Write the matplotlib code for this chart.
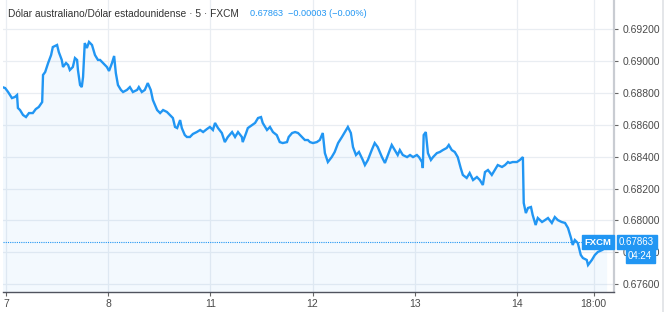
import matplotlib.pyplot as plt
from matplotlib.ticker import FixedLocator, FixedFormatter

plt.rcParams['font.family'] = ['Liberation Sans', 'DejaVu Sans']

# trading-time hours counted from day 7 00:00 (weekend skipped)
hours = [
    -0.9, -0.2, 0.5, 1.4, 2.1, 2.6, 2.8, 3.3, 4.0, 4.7, 5.4, 6.3, 7.0, 7.7, 8.5, 8.7, 9.2, 9.9, 10.6, 11.0,
    12.0, 12.4, 13.1, 13.4, 14.1, 14.6, 15.0, 15.7, 16.2, 16.7, 16.9, 17.4, 17.8, 18.1, 18.5, 19.0, 19.5, 20.2, 20.9, 21.6,
    22.1, 22.8, 23.7, 24.2, 24.9, 25.4, 25.8, 26.3, 27.0, 27.5, 28.4, 29.1, 29.8, 30.8, 31.2, 31.9, 32.6, 33.3, 34.0, 34.5,
    35.5, 36.2, 36.9, 37.8, 38.5, 39.2, 39.7, 40.2, 40.9, 41.3, 42.0, 42.5, 43.2, 43.9, 44.8, 45.6, 46.3, 47.2,
    47.9, 48.6, 49.1, 49.8, 50.7, 51.4, 52.1, 53.1, 53.8, 54.5, 55.4, 55.6, 56.4, 56.8, 57.8, 58.5, 59.2, 59.9, 60.3,
    61.3, 62.0, 62.7, 63.6, 64.3, 65.0, 66.0, 66.4, 67.2, 67.9, 68.6, 69.5, 70.2, 70.9,
    71.4, 72.1, 73.0, 73.7, 74.4, 74.9, 75.6, 76.5, 77.2, 78.0, 78.9, 79.6, 80.3, 81.0, 81.5, 82.2, 82.9, 83.8, 84.3,
    85.0, 85.9, 86.6, 87.3, 88.3, 89.0, 89.7, 90.6, 91.3, 92.0,
    92.5, 93.2, 94.2, 94.9, 95.6, 96.5, 97.0, 97.7, 97.9, 98.1, 98.6, 99.1, 99.8, 100.3, 101.2, 101.9, 102.6, 103.5,
    104.0, 104.7, 105.4, 106.1, 106.8, 107.3, 108.2, 108.9, 109.7, 110.6, 111.3, 112.0, 112.5, 113.2, 114.1, 114.8,
    115.5, 116.5, 117.2, 117.9,
    118.3, 119.0, 120.0, 120.7, 121.4, 121.6, 122.1, 122.6, 123.3, 123.7, 124.4, 124.9, 125.9, 126.6, 127.3, 128.2,
    128.9, 129.6, 130.5, 131.3, 132.0, 132.7, 133.1, 133.6, 134.3, 135.0, 135.5, 136.4, 136.7, 137.6, 138.3, 139.0,
    140.0, 140.7, 141.2,
]
prices = [
    0.68836, 0.68830, 0.68805, 0.68767, 0.68774, 0.68786, 0.68705, 0.68692, 0.68661, 0.68648, 0.68673, 0.68673, 0.68698, 0.68711, 0.68742, 0.68912, 0.68930, 0.68987, 0.69037, 0.69087,
    0.69100, 0.69056, 0.69006, 0.68962, 0.68987, 0.68974, 0.68943, 0.68962, 0.69018, 0.69006, 0.68943, 0.68849, 0.68836, 0.68899, 0.69112, 0.69081, 0.69119, 0.69100, 0.69037, 0.69006,
    0.69006, 0.68987, 0.68962, 0.68937, 0.68987, 0.69031, 0.68924, 0.68849, 0.68818, 0.68805, 0.68818, 0.68836, 0.68805, 0.68818, 0.68836, 0.68805, 0.68818, 0.68861, 0.68818, 0.68755,
    0.68692, 0.68673, 0.68692, 0.68680, 0.68661, 0.68642, 0.68586, 0.68579, 0.68629, 0.68579, 0.68535, 0.68523, 0.68523, 0.68542, 0.68554, 0.68567, 0.68554, 0.68573,
    0.68586, 0.68567, 0.68611, 0.68579, 0.68548, 0.68491, 0.68523, 0.68554, 0.68523, 0.68554, 0.68523, 0.68491, 0.68548, 0.68579, 0.68598, 0.68611, 0.68642, 0.68648, 0.68611,
    0.68567, 0.68586, 0.68554, 0.68535, 0.68491, 0.68485, 0.68491, 0.68523, 0.68548, 0.68554, 0.68548, 0.68523, 0.68504, 0.68504,
    0.68491, 0.68485, 0.68491, 0.68504, 0.68548, 0.68422, 0.68366, 0.68397, 0.68429, 0.68485, 0.68523, 0.68554, 0.68586, 0.68548, 0.68460, 0.68410, 0.68429, 0.68379, 0.68347,
    0.68379, 0.68441, 0.68485, 0.68460, 0.68397, 0.68360, 0.68410, 0.68473, 0.68441, 0.68410,
    0.68441, 0.68410, 0.68397, 0.68410, 0.68397, 0.68410, 0.68397, 0.68366, 0.68328, 0.68535, 0.68554, 0.68422, 0.68379, 0.68397, 0.68422, 0.68429, 0.68441, 0.68454,
    0.68473, 0.68441, 0.68429, 0.68397, 0.68328, 0.68285, 0.68266, 0.68297, 0.68253, 0.68272, 0.68253, 0.68222, 0.68303, 0.68316, 0.68285, 0.68316,
    0.68347, 0.68335, 0.68347, 0.68366,
    0.68360, 0.68366, 0.68366, 0.68379, 0.68397, 0.68109, 0.68046, 0.68078, 0.68084, 0.68034, 0.67971, 0.68015, 0.67990, 0.68002, 0.68015, 0.67984,
    0.68021, 0.68002, 0.67990, 0.67984, 0.67952, 0.67890, 0.67846, 0.67877, 0.67858, 0.67783, 0.67764, 0.67752, 0.67720, 0.67752, 0.67783, 0.67802,
    0.67814, 0.67827, 0.67863,
]
assert len(hours) == len(prices)

tick_hours = [0, 24, 48, 72, 96, 120, 138]
tick_labels = ["7", "8", "11", "12", "13", "14", "18:00"]
price_ticks = [0.676, 0.678, 0.680, 0.682, 0.684, 0.686, 0.688, 0.690, 0.692]
last_price = 0.67863

BLUE = "#2196f3"
GRID = "#e9edf2"
TXT = "#4a4a4a"

fig = plt.figure(figsize=(6.64, 3.12), dpi=100)
ax = fig.add_axes([3 / 664, 20 / 312, 611 / 664, 292 / 312])

ax.fill_between(hours, prices, 0.67, color=BLUE, alpha=0.05, lw=0)
ax.plot(hours, prices, color=BLUE, lw=1.7, solid_joinstyle="miter")
ax.axhline(last_price, color=BLUE, lw=0.8, ls=(0, (1, 1)))

ax.set_xlim(-0.7, 142.8)
ax.set_ylim(0.67551, 0.69382)

ax.xaxis.set_major_locator(FixedLocator(tick_hours))
ax.xaxis.set_major_formatter(FixedFormatter(tick_labels))
ax.yaxis.tick_right()
ax.yaxis.set_major_locator(FixedLocator(price_ticks))
ax.yaxis.set_major_formatter(FixedFormatter(["%.5f" % p for p in price_ticks]))
ax.tick_params(axis="x", length=3, color="#666666", labelsize=7.5, labelcolor=TXT, pad=2)
ax.tick_params(axis="y", length=3, color="#666666", labelsize=7.5, labelcolor=TXT, pad=3)
ax.grid(True, color=GRID, lw=0.9)
ax.set_axisbelow(True)

for s in ["top", "left"]:
    ax.spines[s].set_visible(False)
ax.spines["bottom"].set_color("#50535e")
ax.spines["bottom"].set_linewidth(1.0)
ax.spines["right"].set_color("#c9ccd2")
ax.spines["right"].set_linewidth(1.6)

# legend line at the top left
fig.text(8 / 664, 1 - 14 / 312, "Dólar australiano/Dólar estadounidense · 5 · FXCM",
         fontsize=7.3, color="#333333", va="center", ha="left")
fig.text(250 / 664, 1 - 14 / 312, "0.67863  −0.00003 (−0.00%)",
         fontsize=6.6, color=BLUE, va="center", ha="left")

# price labels on the right
ytr = ax.get_yaxis_transform()
ax.text(0.996, last_price, "FXCM", transform=ytr, ha="right", va="center",
        fontsize=6.8, color="white", fontweight="bold",
        bbox=dict(boxstyle="square,pad=0.25", fc=BLUE, ec=BLUE))
fig.text(619 / 664, 1 - 242 / 312, "0.67863", ha="left", va="center",
         fontsize=7, color="white",
         bbox=dict(boxstyle="square,pad=0.25", fc=BLUE, ec=BLUE))
fig.text(628 / 664, 1 - 256 / 312, "04:24", ha="left", va="center",
         fontsize=7, color="white",
         bbox=dict(boxstyle="square,pad=0.25", fc=BLUE, ec=BLUE))

fig.add_artist(plt.Line2D([663 / 664, 663 / 664], [0, 1], color="#dfe1e5", lw=1.2))

fig.savefig("out.png", dpi=100)
